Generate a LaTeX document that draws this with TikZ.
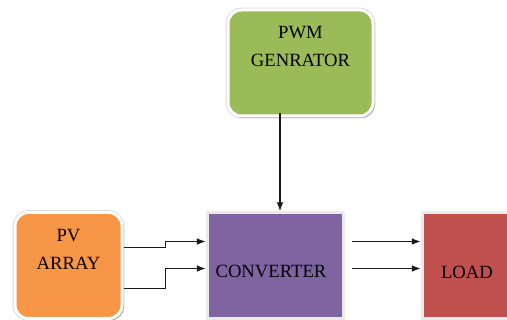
\documentclass[tikz,border=0pt]{standalone}
\usepackage{fontspec}
\setmainfont{Liberation Serif}
\usetikzlibrary{arrows.meta,shadows}

\definecolor{pwmgreen}{RGB}{155,187,89}
\definecolor{pvorange}{RGB}{247,150,70}
\definecolor{cvpurple}{RGB}{128,100,162}
\definecolor{loadred}{RGB}{192,80,77}

\tikzset{every picture/.style={line width=0.75pt}}
\tikzset{
  roundbox/.style={rounded corners=10pt, draw=white, line width=2.25pt,
    preaction={draw=black!15, line width=3.5pt},
    drop shadow={shadow xshift=1.5pt, shadow yshift=-1.5pt, opacity=0.35, fill=black!70}},
  flatbox/.style={draw=black!8, line width=2.25pt},
  boxtext/.style={inner sep=0.75pt, align=center, font=\fontsize{14}{21}\selectfont},
  conn/.style={draw=black!90, line width=0.8pt, -{Latex[length=6.5pt,width=5pt]}}
}

\begin{document}
\begin{tikzpicture}[x=0.75pt,y=0.75pt,yscale=-1,xscale=1]
\useasboundingbox (0,0) rectangle (507,320); %picture is 507 x 320

%Shape: Rounded Rect (pwm)
\draw (300.5,63) node [roundbox, fill=pwmgreen, minimum width=108.75pt, minimum height=79.5pt] (pwm) {};
%Shape: Rounded Rect (pv array)
\draw (68.5,265.5) node [roundbox, fill=pvorange, minimum width=80.25pt, minimum height=79.5pt] (pv) {};
%Shape: Rectangle (converter)
\draw (275,265.5) node [flatbox, fill=cvpurple, minimum width=102pt, minimum height=79.5pt] (cv) {};
%Shape: Rectangle (load)
\draw (466,265.5) node [flatbox, fill=loadred, minimum width=66pt, minimum height=79.5pt] (ld) {};

% Text Node
\draw (300.5,46) node [boxtext] (pwmtext) {PWM\\GENRATOR};
% Text Node
\draw (68.5,249) node [boxtext] (pvtext) {PV\\ARRAY};
% Text Node
\draw (271,271) node [boxtext] (cvtext) {CONVERTER};
% Text Node
\draw (467,272) node [boxtext] (ldtext) {LOAD};

%Straight Lines
\coordinate (cvin) at ([xshift=3.75pt]cv.north);
\draw [conn] ([yshift=-3pt]pwm.south -| cvin) -- (cvin);
%Straight Lines
\draw [conn] ([yshift=17.25pt]pv.east) -- ++(42,0) |- ([yshift=2.25pt]cv.west);
\draw [conn] ([yshift=-13.5pt]pv.east) -- ++(42,0) |- ([yshift=-18pt]cv.west);
%Straight Lines
\draw [conn] ([xshift=5.25pt,yshift=2.25pt]cv.east) -- ([yshift=2.25pt]ld.west);
\draw [conn] ([xshift=5.25pt,yshift=-18pt]cv.east) -- ([yshift=-18pt]ld.west);

\end{tikzpicture}
\end{document}
